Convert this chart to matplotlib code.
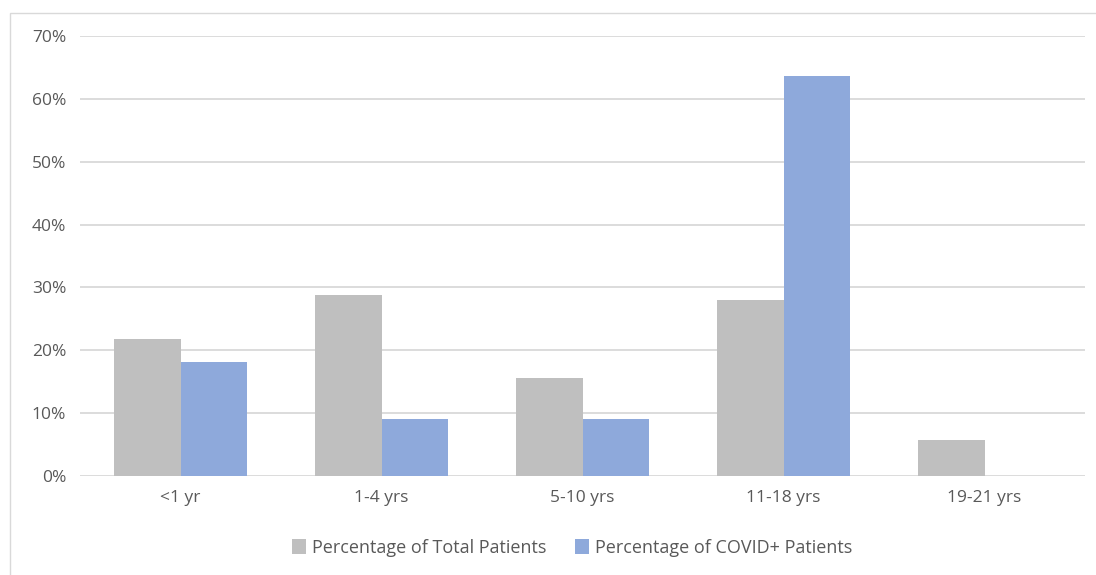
import matplotlib.pyplot as plt
import matplotlib.patches as mpatches
import numpy as np
from matplotlib.ticker import PercentFormatter

# Age groups and shares (percent)
categories = ['<1 yr', '1-4 yrs', '5-10 yrs', '11-18 yrs', '19-21 yrs']
total_pct = [21.8, 28.8, 15.6, 28.0, 5.7]
covid_pct = [18.2, 9.1, 9.1, 63.6, 0.0]

plt.rcParams['font.family'] = ['Open Sans', 'DejaVu Sans']
text_color = '#595959'

fig = plt.figure(figsize=(10.96, 5.75), dpi=100)
ax = fig.add_axes([80 / 1096, 1 - 476 / 575, 1005 / 1096, 440 / 575])

x = np.arange(len(categories))
w = 0.333
ax.bar(x - w / 2, total_pct, width=w, color='#BFBFBF', label='Percentage of Total Patients', zorder=2)
ax.bar(x + w / 2, covid_pct, width=w, color='#8EA9DB', label='Percentage of COVID+ Patients', zorder=2)

ax.set_xlim(-0.5, len(categories) - 0.5)
ax.set_ylim(0, 70)
ax.set_yticks(np.arange(0, 71, 10))
ax.yaxis.set_major_formatter(PercentFormatter(decimals=0))
ax.set_xticks(x)
ax.set_xticklabels(categories)
ax.grid(axis='y', color='#D9D9D9', linewidth=1.3, zorder=0)
for s in ax.spines.values():
    s.set_visible(False)
ax.tick_params(length=0, colors=text_color, labelsize=12.5)
ax.tick_params(axis='y', pad=10)
ax.tick_params(axis='x', pad=10)

leg = fig.legend(loc='center', bbox_to_anchor=(572 / 1096, 1 - 548 / 575), ncol=2, frameon=False,
                 fontsize=13, handlelength=0.8, handleheight=0.9, handletextpad=0.3, columnspacing=1.6)
for t in leg.get_texts():
    t.set_color(text_color)

# light frame around the chart area
fig.patches.append(mpatches.Rectangle((10 / 1096, -0.05), 1.1, 1 - 13 / 575 + 0.05,
                                      transform=fig.transFigure, fill=False,
                                      edgecolor='#D9D9D9', linewidth=1))

fig.savefig('out.png', dpi=100)
